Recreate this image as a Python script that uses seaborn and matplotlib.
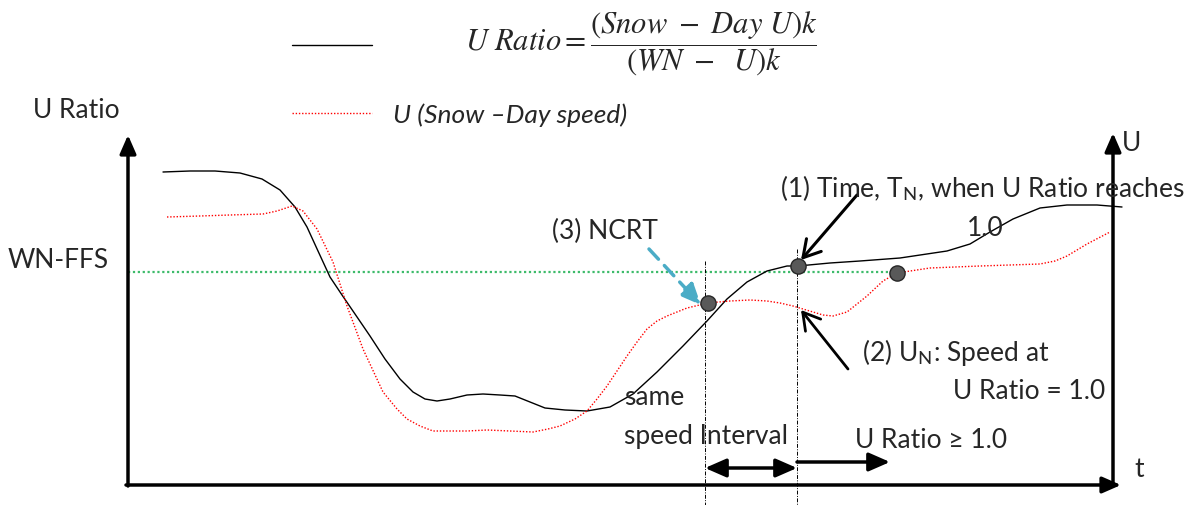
import pandas as pd
import seaborn as sns
import matplotlib
matplotlib.use('Agg')
import matplotlib.pyplot as plt

# Schematic drawn in a pixel-like coordinate frame (x right, y down)
# U Ratio curve (black, solid)
ratio_t = [163, 190, 215, 240, 262, 280, 295, 307, 318, 330, 342, 355, 370, 385, 400, 413, 425,
           437, 450, 467, 483, 500, 515, 530, 545, 565, 587, 610, 633, 657, 683, 707, 727, 747,
           767, 787, 798, 830, 860, 900, 947, 970, 990, 1013, 1040, 1067, 1097, 1122]
ratio_v = [173, 172, 172, 174, 180, 191, 208, 228, 252, 278, 296, 315, 337, 360, 380, 393, 400,
           402, 400, 396, 395, 396, 397, 403, 409, 411, 412, 408, 395, 373, 347, 322, 300, 283,
           272, 267, 267, 264, 262, 259, 252, 245, 233, 220, 209, 206, 206, 208]

# U (snow-day speed) curve (red, dotted)
speed_t = [167, 200, 230, 263, 277, 292, 303, 317, 333, 347, 363, 383, 397, 407, 420, 433, 467,
           487, 510, 533, 548, 560, 575, 587, 597, 607, 617, 627, 637, 647, 657, 667, 687, 708,
           730, 750, 767, 780, 793, 813, 823, 833, 847, 857, 867, 883, 897, 930, 980, 1040,
           1055, 1067, 1087, 1110]
speed_v = [218, 217, 216, 215, 212, 207, 212, 230, 263, 307, 350, 393, 410, 420, 427, 432, 432,
           431, 432, 433, 430, 427, 420, 412, 400, 387, 372, 357, 343, 330, 322, 317, 309, 304,
           302, 301, 302, 304, 307, 313, 316, 317, 313, 305, 297, 282, 274, 269, 267, 265,
           262, 257, 245, 233]

# key points: NCRT, T_N, speed reaching WN-FFS
point_t = [708, 798, 897]
point_v = [304, 267, 274]

wn_ffs_level = 273

ratio_df = pd.DataFrame({'t': ratio_t, 'v': ratio_v})
speed_df = pd.DataFrame({'t': speed_t, 'v': speed_v})
points_df = pd.DataFrame({'t': point_t, 'v': point_v})

sns.set_style('white')
plt.rcParams['font.family'] = ['Lato', 'DejaVu Sans']
plt.rcParams['mathtext.fontset'] = 'stix'

fig = plt.figure(figsize=(12.01, 5.06), dpi=100)
ax = fig.add_axes([0, 0, 1, 1])
ax.set_xlim(0, 1201)
ax.set_ylim(506, 0)
ax.axis('off')

FS = 19

# WN-FFS reference line
ax.plot([128, point_t[2]], [wn_ffs_level, wn_ffs_level], color='#3dbb6a', lw=1.6,
        linestyle=(0, (1, 1.2)))

# curves
sns.lineplot(data=ratio_df, x='t', y='v', sort=False, estimator=None, color='black', lw=1.0, ax=ax)
sns.lineplot(data=speed_df, x='t', y='v', sort=False, estimator=None, color='red', lw=1.0,
             linestyle=(0, (1, 1.3)), ax=ax)

# vertical dash-dot guides
ax.plot([705, 705], [262, 506], color='black', lw=0.7, linestyle=(0, (4, 1.5, 1, 1.5)))
ax.plot([797, 797], [250, 506], color='black', lw=0.7, linestyle=(0, (4, 1.5, 1, 1.5)))

sns.scatterplot(data=points_df, x='t', y='v', s=120, color='#595959', edgecolor='#262626',
                linewidth=1.0, zorder=5, ax=ax)

# axes arrows
axis_arrow = dict(arrowstyle='-|>,head_length=0.8,head_width=0.35', lw=2.5, color='black',
                  shrinkA=0, shrinkB=0, mutation_scale=14)
ax.annotate('', xy=(128, 136), xytext=(128, 487), arrowprops=axis_arrow)
ax.annotate('', xy=(1121, 486), xytext=(126, 486), arrowprops=axis_arrow)
ax.annotate('', xy=(1113, 134), xytext=(1113, 487), arrowprops=axis_arrow)

# interval arrows
ax.annotate('', xy=(797, 469), xytext=(705, 469),
            arrowprops=dict(arrowstyle='<|-|>,head_length=0.8,head_width=0.35', lw=2.5,
                            color='black', shrinkA=0, shrinkB=0, mutation_scale=16))
ax.annotate('', xy=(890, 463), xytext=(797, 463),
            arrowprops=dict(arrowstyle='-|>,head_length=0.8,head_width=0.35', lw=2.5,
                            color='black', shrinkA=0, shrinkB=0, mutation_scale=16))

# pointer arrows
ax.annotate('', xy=(801, 261), xytext=(857, 196),
            arrowprops=dict(arrowstyle='->,head_length=0.6,head_width=0.35', lw=2.2,
                            color='black', shrinkA=0, shrinkB=0, mutation_scale=20))
ax.annotate('', xy=(801, 311), xytext=(848, 370),
            arrowprops=dict(arrowstyle='->,head_length=0.6,head_width=0.35', lw=2.0,
                            color='black', shrinkA=0, shrinkB=0, mutation_scale=20))
ax.annotate('', xy=(701, 306), xytext=(649, 250),
            arrowprops=dict(arrowstyle='-|>,head_length=0.8,head_width=0.35', lw=2.5,
                            color='#4bacc6', linestyle=(0, (4, 2.5)), shrinkA=0, shrinkB=0,
                            mutation_scale=16))

# legend
ax.plot([292, 372], [46, 46], color='black', lw=1.0)
ax.plot([292, 372], [114, 114], color='red', lw=1.0, linestyle=(0, (1, 1.3)))
ax.text(465, 44, r'$U\ Ratio = \dfrac{(Snow\ -\ Day\ U)k}{(WN\ -\ \ U)k}$', fontsize=22,
        ha='left', va='center')
ax.text(393, 115, 'U (Snow \u2013Day speed)', fontsize=FS, style='italic', ha='left', va='center')

# labels
ax.text(33, 110, 'U Ratio', fontsize=FS, ha='left', va='center')
ax.text(8, 261, 'WN-FFS', fontsize=FS, ha='left', va='center')
ax.text(1122, 143, 'U', fontsize=FS, ha='left', va='center')
ax.text(1134, 470, 't', fontsize=FS, ha='left', va='center')
ax.text(552, 231, '(3) NCRT', fontsize=FS, ha='left', va='center')
ax.text(780, 188, r'(1) Time, T$_\mathregular{N}$, when U Ratio reaches', fontsize=FS,
        ha='left', va='center')
ax.text(967, 228, '1.0', fontsize=FS, ha='left', va='center')
ax.text(862, 352, r'(2) U$_\mathregular{N}$: Speed at', fontsize=FS, ha='left', va='center')
ax.text(1105, 392, 'U Ratio = 1.0', fontsize=FS, ha='right', va='center')
ax.text(624, 398, 'same', fontsize=FS, ha='left', va='center')
ax.text(624, 437, 'speed Interval', fontsize=FS, ha='left', va='center')
ax.text(855, 441, 'U Ratio \u2265 1.0', fontsize=FS, ha='left', va='center')

fig.savefig('out.png', dpi=100)
